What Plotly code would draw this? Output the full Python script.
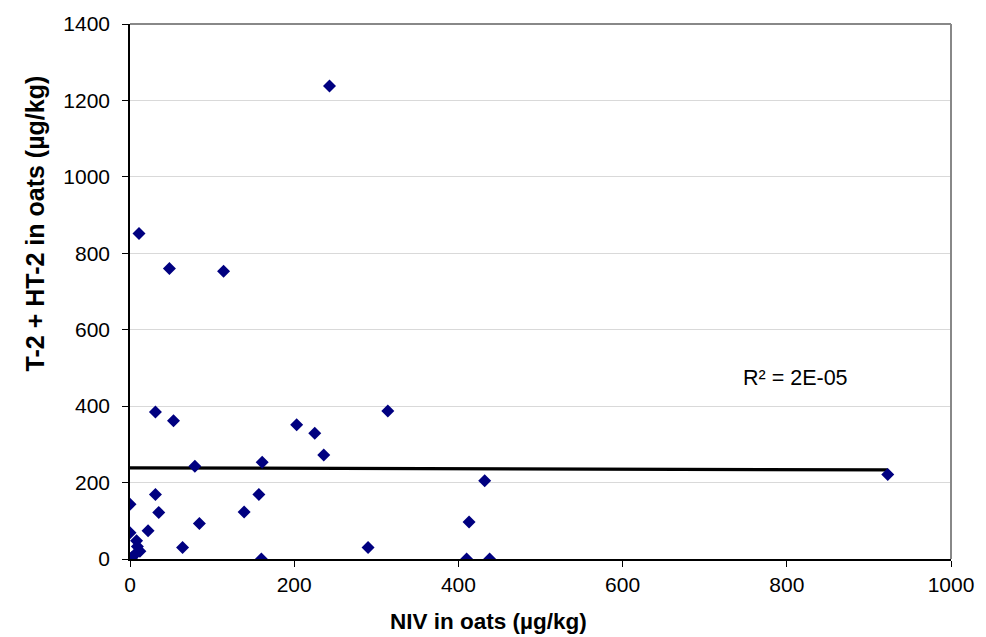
import plotly.graph_objects as go

# NIV (x) and T-2 + HT-2 (y) in oats, µg/kg
niv = [0, 2, 6, 12, 9, 8, 0, 0, 22, 31, 31, 35, 53, 48, 11, 64, 79, 84.5, 114,
       139, 157, 160, 161, 203, 225, 236, 243, 290, 314, 410, 413, 432, 438, 923]
t2ht2 = [0, 3, 12, 20, 33, 48, 69, 143, 74, 385, 169, 122, 362, 760, 852, 30, 243, 93, 753,
         123, 169, 0, 253, 351, 329, 272, 1238, 30, 387, 0, 97, 205, 0, 221]

trend_x = [0, 923]
trend_y = [238.5, 233]
r2_label = "R² = 2E-05"
x_ticks = [0, 200, 400, 600, 800, 1000]
y_ticks = [0, 200, 400, 600, 800, 1000, 1200, 1400]

FONT = "Liberation Sans, Arial, sans-serif"

fig = go.Figure()
fig.add_trace(go.Scatter(x=trend_x, y=trend_y, mode="lines",
                         line=dict(color="black", width=3.2), hoverinfo="skip"))
fig.add_trace(go.Scatter(x=niv, y=t2ht2, mode="markers",
                         marker=dict(symbol="diamond", size=10, color="#000080",
                                     line=dict(width=0))))

fig.update_layout(
    width=986, height=637,
    margin=dict(l=130, r=28, t=18, b=78),
    paper_bgcolor="white", plot_bgcolor="white",
    showlegend=False,
    font=dict(family=FONT, size=21, color="black"),
    xaxis=dict(range=[0, 1000], tickvals=x_ticks, showgrid=False, zeroline=False,
               showline=True, linecolor="black", linewidth=1.5,
               ticks="outside", ticklen=6, tickcolor="black",
               tickfont=dict(family=FONT, size=21, color="black")),
    yaxis=dict(range=[0, 1400], tickvals=y_ticks, showgrid=True, gridcolor="#d9d9d9",
               gridwidth=1, zeroline=False,
               showline=True, linecolor="black", linewidth=1.5,
               ticks="outside", ticklen=6, tickcolor="black", ticklabelstandoff=8,
               tickfont=dict(family=FONT, size=21, color="black")),
    shapes=[
        dict(type="line", xref="paper", yref="paper", x0=0, x1=1, y0=1, y1=1,
             line=dict(color="#888888", width=2)),
        dict(type="line", xref="paper", yref="paper", x0=1, x1=1, y0=0, y1=1,
             line=dict(color="#888888", width=2)),
    ],
    annotations=[
        dict(text="<b>NIV in oats (µg/kg)</b>", xref="paper", yref="paper",
             x=(492 - 130) / 828, y=-(623 - 559.5) / 541.5, showarrow=False,
             xanchor="center", yanchor="middle",
             font=dict(family=FONT, size=22.5, color="black")),
        dict(text="<b>T-2 + HT-2 in oats (µg/kg)</b>", xref="paper", yref="paper",
             x=-(130 - 34) / 828, y=(559.5 - 220) / 541.5, showarrow=False, textangle=-90,
             xanchor="center", yanchor="middle",
             font=dict(family=FONT, size=25, color="black")),
        dict(text=r2_label, x=(801.5 - 130) / 0.828, y=(559.5 - 376.7) / 0.3868,
             xref="x", yref="y", showarrow=False, xanchor="center", yanchor="middle",
             font=dict(family=FONT, size=21.5, color="black")),
    ],
)

fig.write_html("out.html")
